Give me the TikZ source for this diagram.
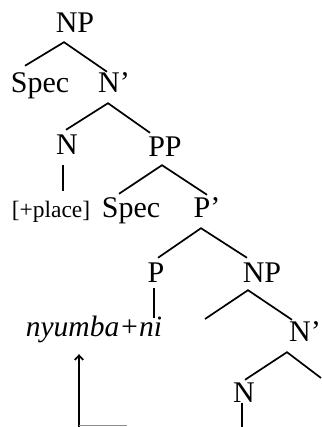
\documentclass[tikz,border=0pt]{standalone}
\usepackage{fontspec}
\setmainfont{Liberation Serif}
\usetikzlibrary{arrows.meta}

\begin{document}
\begin{tikzpicture}[
  x=1pt, y=1pt,
  cat/.style={font=\fontsize{30}{31}\selectfont, inner sep=0pt, anchor=base,
              text height=19pt, text depth=0pt},
  feat/.style={cat, font=\fontsize{23.5}{24}\selectfont, text height=16pt},
  word/.style={cat, font=\fontsize{29.5}{30}\selectfont\itshape},
  br/.style={line width=1.7pt},
  arr/.style={br, -{Straight Barb[length=4.5pt,width=8.5pt]}}
]
\useasboundingbox (0,0) rectangle (321,427);

% upper NP
\node[cat] (np) at (75,394) {NP};
\node[cat] (spec) at (40,334) {Spec};
\node[cat] (nbar) at (114,334) {N’};
\node[cat] (n) at (67,272) {N};
\node[cat] (pp) at (165,270) {PP};
\node[feat] (place) at (51,209) {[+place]};
\node[cat] (pspec) at (131,209) {Spec};
\node[cat] (pbar) at (207,209) {P’};
\node[cat] (p) at (156,144) {P};
\node[cat] (npb) at (262,144) {NP};
\node[word] (word) at (94,90) {nyumba+ni};
\node[cat] (nbarb) at (305,85) {N’};
\node[cat] (nb) at (244,24) {N};

% free ends
\coordinate (npb-l) at (205,108);
\coordinate (nbarb-r) at (321,49);
\coordinate (nb-foot) at (242,0);
\coordinate (foot) at (79,0);
\coordinate (foot-end) at (127,0);

\draw[br] ([xshift=-15pt,yshift=8pt]spec.north) -- ([xshift=-11pt,yshift=-9pt]np.south)
  -- ([xshift=-7pt,yshift=2pt]nbar.north);
\draw[br] ([xshift=-1pt,yshift=6pt]n.north) -- ([xshift=-6pt,yshift=-10pt]nbar.south)
  -- ([xshift=-15pt,yshift=5pt]pp.north);
\draw[br] ([xshift=-4pt,yshift=-10pt]n.south) -- ([xshift=12pt,yshift=11pt]place.north);
\draw[br] ([xshift=-12pt,yshift=5pt]pspec.north) -- ([xshift=-3pt,yshift=-8pt]pp.south)
  -- ([yshift=4pt]pbar.north);
\draw[br] ([xshift=2pt,yshift=6pt]p.north) -- ([xshift=-6pt,yshift=-10pt]pbar.south)
  -- ([xshift=-15pt,yshift=6pt]npb.north);
\draw[br] ([xshift=-2pt,yshift=-5pt]p.south) -- ([xshift=60pt]word.north);
\draw[br] (npb-l) -- ([xshift=-14pt,yshift=-7pt]npb.south)
  -- ([xshift=-13pt,yshift=3pt]nbarb.north);
\draw[br] ([xshift=1pt,yshift=4pt]nb.north) -- ([xshift=-18pt,yshift=-10pt]nbarb.south)
  -- (nbarb-r);
\draw[br] ([xshift=-2pt]nb.south) -- (nb-foot);

% movement arrow
\draw[arr] (foot) -- ([xshift=-15pt,yshift=-17pt]word.south);
\draw[line width=1pt, black!45] ([yshift=1.5pt]foot) -- ([yshift=1.5pt]foot-end);
\end{tikzpicture}
\end{document}
